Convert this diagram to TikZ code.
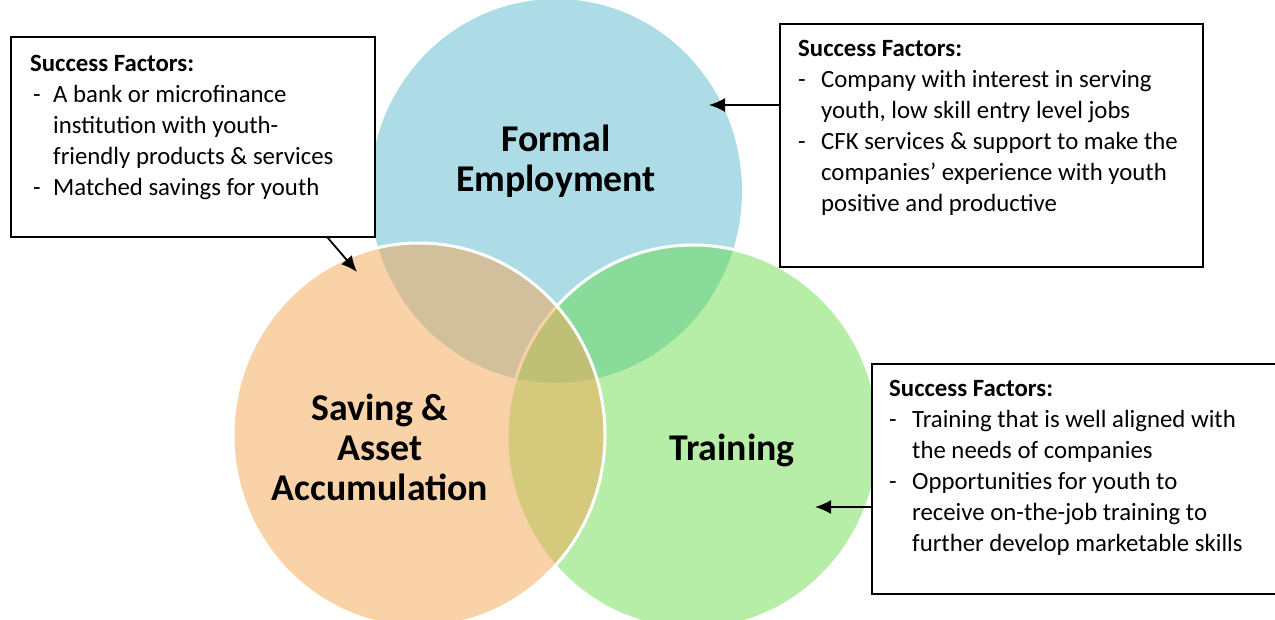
\documentclass[tikz,border=0pt]{standalone}
\usepackage{fontspec}
\setmainfont{Carlito}
\usepackage{tikz}
\usetikzlibrary{arrows.meta, positioning}

\definecolor{empblue}{RGB}{173,220,230}
\definecolor{savorange}{RGB}{245,165,81}
\definecolor{trngreen}{RGB}{96,218,66}

\tikzset{
  factorbox/.style={draw=black, line width=1.6pt, fill=white, anchor=north west},
  factortext/.style={inner sep=0pt, font=\fontsize{24.8}{31}\selectfont},
  vlabel/.style={align=center, font=\fontsize{37.8}{40}\selectfont\bfseries},
  arr/.style={line width=1.8pt, -{Latex[length=16pt,width=14pt]}},
}

\begin{document}
\begin{tikzpicture}[x=1pt, y=-1pt]
        \useasboundingbox (0,0) rectangle (1275,620);
        \clip (0,0) rectangle (1275,620);

        % the three sets
        \fill[empblue] (556,191) ellipse [x radius=186pt, y radius=192pt];
        \fill[trngreen, fill opacity=0.46] (693,437) ellipse [x radius=186pt, y radius=192pt];
        \draw[white, line width=3pt] (693,437) ellipse [x radius=186pt, y radius=192pt];
        \fill[savorange, fill opacity=0.5] (419,435) ellipse [x radius=186pt, y radius=192pt];
        \draw[white, line width=3pt] (419,435) ellipse [x radius=186pt, y radius=192pt];

        \node[vlabel] (emp) at (556,161) {Formal\\Employment};
        \node[vlabel] (sav) at (380,447) {Saving \&\\Asset\\Accumulation};
        \node[vlabel] (trn) at (732,450) {Training};

        % success factor boxes
        \node[factorbox, minimum width=364pt, minimum height=200pt] (savbox) at (10,36) {};
        \node[factortext, below right=14pt and 20pt of savbox.north west] (savtext) {%
            \begin{tabular}{@{}p{23pt}@{}l@{}}
            \multicolumn{2}{@{}l}{\textbf{Success Factors:}}\\
            \hspace*{3pt}- & A bank or microfinance\\
              & institution with youth-\\
              & friendly products \& services\\
            \hspace*{3pt}- & Matched savings for youth
            \end{tabular}};

        \node[factorbox, minimum width=423pt, minimum height=243pt] (empbox) at (779,23) {};
        \node[factortext, below right=12pt and 19pt of empbox.north west] (emptext) {%
            \begin{tabular}{@{}p{23pt}@{}l@{}}
            \multicolumn{2}{@{}l}{\textbf{Success Factors:}}\\
            - & Company with interest in serving\\
              & youth, low skill entry level jobs\\
            - & CFK services \& support to make the\\
              & companies’ experience with youth\\
              & positive and productive
            \end{tabular}};

        \node[factorbox, minimum width=420pt, minimum height=230pt] (trnbox) at (871,363) {};
        \node[factortext, below right=12pt and 18pt of trnbox.north west] (trntext) {%
            \begin{tabular}{@{}p{23pt}@{}l@{}}
            \multicolumn{2}{@{}l}{\textbf{Success Factors:}}\\
            - & Training that is well aligned with\\
              & the needs of companies\\
            - & Opportunities for youth to\\
              & receive on-the-job training to\\
              & further develop marketable skills
            \end{tabular}};

        % arrows into the circles
        \coordinate (savtip) at (357,272);
        \coordinate (emptip) at (709,105);
        \coordinate (trntip) at (815,507);
        \draw[arr] ([xshift=-48pt]savbox.south east) -- (savtip);
        \draw[arr] (empbox.west |- emptip) -- (emptip);
        \draw[arr] (trnbox.west |- trntip) -- (trntip);
\end{tikzpicture}
\end{document}
